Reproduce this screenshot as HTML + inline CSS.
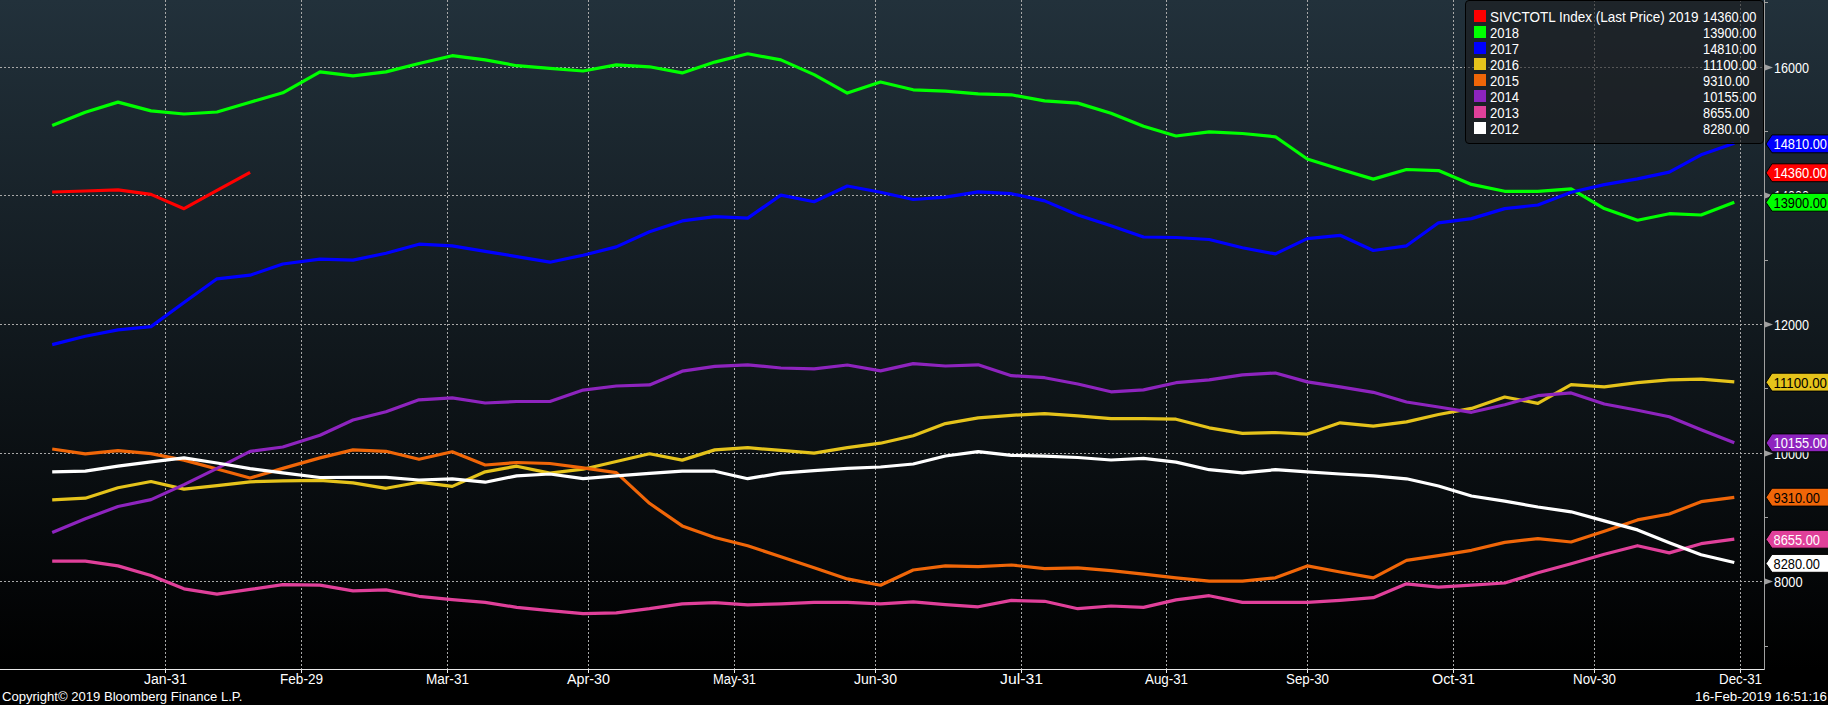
<!DOCTYPE html><html><head><meta charset="utf-8"><style>html,body{margin:0;padding:0;background:#000;overflow:hidden;}svg{display:block;}text{font-family:"Liberation Sans",sans-serif;}</style></head><body>
<svg width="1828" height="705" viewBox="0 0 1828 705">
<defs><linearGradient id="bg" x1="0" y1="0" x2="0" y2="1"><stop offset="0" stop-color="#22313b"/><stop offset="1" stop-color="#000000"/></linearGradient></defs>
<rect x="0" y="0" width="1828" height="705" fill="#000"/>
<rect x="0" y="0" width="1828" height="669" fill="url(#bg)"/>
<line x1="0" y1="67.5" x2="1764" y2="67.5" stroke="#a8a8a8" stroke-width="1" stroke-dasharray="2 2"/>
<line x1="0" y1="195.5" x2="1764" y2="195.5" stroke="#a8a8a8" stroke-width="1" stroke-dasharray="2 2"/>
<line x1="0" y1="324.5" x2="1764" y2="324.5" stroke="#a8a8a8" stroke-width="1" stroke-dasharray="2 2"/>
<line x1="0" y1="453.5" x2="1764" y2="453.5" stroke="#a8a8a8" stroke-width="1" stroke-dasharray="2 2"/>
<line x1="0" y1="581.5" x2="1764" y2="581.5" stroke="#a8a8a8" stroke-width="1" stroke-dasharray="2 2"/>
<line x1="165.5" y1="0" x2="165.5" y2="669" stroke="#a8a8a8" stroke-width="1" stroke-dasharray="2 2"/>
<line x1="301.5" y1="0" x2="301.5" y2="669" stroke="#a8a8a8" stroke-width="1" stroke-dasharray="2 2"/>
<line x1="447.5" y1="0" x2="447.5" y2="669" stroke="#a8a8a8" stroke-width="1" stroke-dasharray="2 2"/>
<line x1="588.5" y1="0" x2="588.5" y2="669" stroke="#a8a8a8" stroke-width="1" stroke-dasharray="2 2"/>
<line x1="734.5" y1="0" x2="734.5" y2="669" stroke="#a8a8a8" stroke-width="1" stroke-dasharray="2 2"/>
<line x1="875.5" y1="0" x2="875.5" y2="669" stroke="#a8a8a8" stroke-width="1" stroke-dasharray="2 2"/>
<line x1="1021.5" y1="0" x2="1021.5" y2="669" stroke="#a8a8a8" stroke-width="1" stroke-dasharray="2 2"/>
<line x1="1166.5" y1="0" x2="1166.5" y2="669" stroke="#a8a8a8" stroke-width="1" stroke-dasharray="2 2"/>
<line x1="1307.5" y1="0" x2="1307.5" y2="669" stroke="#a8a8a8" stroke-width="1" stroke-dasharray="2 2"/>
<line x1="1453.5" y1="0" x2="1453.5" y2="669" stroke="#a8a8a8" stroke-width="1" stroke-dasharray="2 2"/>
<line x1="1594.5" y1="0" x2="1594.5" y2="669" stroke="#a8a8a8" stroke-width="1" stroke-dasharray="2 2"/>
<line x1="1740.5" y1="0" x2="1740.5" y2="669" stroke="#a8a8a8" stroke-width="1" stroke-dasharray="2 2"/>
<polyline points="52.2,192.0 85.3,191.0 118.0,189.8 151.0,194.4 184.0,208.7 217.0,190.4 250.1,172.3" fill="none" stroke="#ff0000" stroke-width="3.2" stroke-linejoin="round"/>
<polyline points="52.2,125.6 85.3,112.3 118.0,102.1 151.0,110.9 184.0,114.0 217.0,112.0 250.1,102.2 282.8,92.8 320.0,71.9 353.0,75.9 386.0,71.9 419.0,63.5 452.2,55.7 485.2,59.9 516.7,65.7 549.9,68.4 583.1,71.0 616.3,64.9 649.5,66.8 682.2,72.9 714.8,62.1 747.7,53.8 780.9,59.9 814.1,74.6 847.3,93.1 880.5,82.0 913.2,89.8 945.4,91.2 978.2,93.9 1011.4,94.8 1044.6,100.9 1077.8,103.1 1111.0,113.3 1143.5,126.3 1176.0,136.0 1209.2,131.8 1242.4,133.5 1275.4,136.8 1307.3,159.0 1340.1,169.2 1373.3,179.1 1406.5,169.5 1438.5,170.6 1471.5,184.4 1504.7,191.3 1537.9,191.3 1571.1,188.8 1604.3,208.6 1637.5,220.2 1669.3,213.7 1701.1,215.0 1734.3,202.3" fill="none" stroke="#00ff00" stroke-width="3.2" stroke-linejoin="round"/>
<polyline points="52.2,344.6 85.3,336.3 118.0,329.9 151.0,326.6 184.0,302.5 217.0,278.8 250.1,275.2 282.8,264.0 320.0,259.2 353.0,260.1 386.0,253.3 419.0,244.2 452.2,245.8 485.2,251.3 516.7,256.6 549.9,262.2 583.1,255.2 616.3,246.9 649.5,231.7 682.2,220.9 714.8,216.7 747.7,218.1 780.9,195.1 814.1,201.7 847.3,186.0 880.5,192.3 913.2,199.5 945.4,197.2 978.2,191.8 1011.4,193.7 1044.6,200.9 1077.8,215.0 1111.0,225.8 1143.5,237.0 1176.0,237.5 1209.2,239.5 1242.4,247.8 1275.4,253.9 1307.3,238.6 1340.1,235.3 1373.3,250.5 1406.5,245.8 1438.5,222.8 1471.5,218.6 1504.7,208.6 1537.9,205.0 1571.1,192.3 1604.3,184.6 1637.5,178.9 1669.3,172.1 1701.1,154.8 1734.3,143.2" fill="none" stroke="#0000ff" stroke-width="3.2" stroke-linejoin="round"/>
<polyline points="52.2,499.8 85.3,498.2 118.0,487.8 151.0,481.5 184.0,489.1 217.0,485.6 250.1,481.8 282.8,480.9 320.0,480.3 353.0,482.8 386.0,488.3 419.0,482.2 452.2,486.4 485.2,471.8 516.7,466.2 549.9,473.1 583.1,469.2 616.3,461.5 649.5,453.8 682.2,460.1 714.8,449.9 747.7,447.7 780.9,450.4 814.1,453.2 847.3,447.7 880.5,443.2 913.2,435.8 945.4,423.6 978.2,417.8 1011.4,415.3 1044.6,413.6 1077.8,415.9 1111.0,418.6 1143.5,418.6 1176.0,419.2 1209.2,427.8 1242.4,433.3 1275.4,432.5 1307.3,434.1 1340.1,422.8 1373.3,426.1 1406.5,421.9 1438.5,414.5 1471.5,408.4 1504.7,397.0 1537.9,403.4 1571.1,384.6 1604.3,386.8 1637.5,382.7 1669.3,379.9 1701.1,379.1 1734.3,381.8" fill="none" stroke="#e5c31b" stroke-width="3.2" stroke-linejoin="round"/>
<polyline points="52.2,449.0 85.3,453.9 118.0,450.6 151.0,453.6 184.0,460.1 217.0,469.0 250.1,478.0 282.8,468.4 320.0,457.9 353.0,449.9 386.0,451.3 419.0,459.3 452.2,451.8 485.2,465.0 516.7,462.5 549.9,463.5 583.1,467.8 616.3,472.6 649.5,503.3 682.2,525.9 714.8,537.5 747.7,545.8 780.9,556.7 814.1,567.8 847.3,578.9 880.5,585.2 913.2,570.0 945.4,565.9 978.2,566.7 1011.4,565.0 1044.6,568.6 1077.8,567.8 1111.0,570.6 1143.5,574.2 1176.0,577.8 1209.2,581.1 1242.4,581.1 1275.4,577.8 1307.3,565.9 1340.1,572.0 1373.3,577.8 1406.5,560.3 1438.5,555.6 1471.5,550.3 1504.7,542.4 1537.9,538.6 1571.1,542.0 1604.3,531.3 1637.5,519.9 1669.3,514.0 1701.1,501.7 1734.3,497.4" fill="none" stroke="#f06608" stroke-width="3.2" stroke-linejoin="round"/>
<polyline points="52.2,532.6 85.3,518.8 118.0,506.5 151.0,499.6 184.0,484.6 217.0,468.4 250.1,451.3 282.8,447.0 320.0,435.2 353.0,420.0 386.0,411.7 419.0,399.8 452.2,397.9 485.2,403.0 516.7,401.5 549.9,401.5 583.1,390.1 616.3,386.0 649.5,384.9 682.2,371.2 714.8,366.4 747.7,364.8 780.9,368.0 814.1,368.8 847.3,365.0 880.5,370.9 913.2,363.6 945.4,366.0 978.2,364.8 1011.4,375.7 1044.6,377.7 1077.8,384.0 1111.0,391.8 1143.5,389.9 1176.0,382.7 1209.2,379.9 1242.4,374.9 1275.4,373.0 1307.3,381.9 1340.1,386.8 1373.3,392.3 1406.5,402.0 1438.5,407.0 1471.5,412.3 1504.7,404.8 1537.9,395.7 1571.1,392.9 1604.3,404.0 1637.5,410.3 1669.3,416.7 1701.1,429.7 1734.3,442.7" fill="none" stroke="#8e24be" stroke-width="3.2" stroke-linejoin="round"/>
<polyline points="52.2,561.2 85.3,561.2 118.0,565.9 151.0,575.5 184.0,588.8 217.0,594.1 250.1,589.4 282.8,584.7 320.0,585.2 353.0,590.8 386.0,589.9 419.0,596.3 452.2,599.6 485.2,602.3 516.7,607.4 549.9,610.7 583.1,613.7 616.3,612.9 649.5,608.7 682.2,603.8 714.8,602.7 747.7,604.9 780.9,603.8 814.1,602.4 847.3,602.4 880.5,603.8 913.2,601.8 945.4,604.6 978.2,606.8 1011.4,600.4 1044.6,601.3 1077.8,608.7 1111.0,606.0 1143.5,607.4 1176.0,599.9 1209.2,595.7 1242.4,602.4 1275.4,602.4 1307.3,602.4 1340.1,600.4 1373.3,597.7 1406.5,583.8 1438.5,587.2 1471.5,585.2 1504.7,583.0 1537.9,572.8 1571.1,563.7 1604.3,554.2 1637.5,545.7 1669.3,552.9 1701.1,543.7 1734.3,539.2" fill="none" stroke="#e0409a" stroke-width="3.2" stroke-linejoin="round"/>
<polyline points="52.2,471.8 85.3,471.2 118.0,466.2 151.0,461.8 184.0,457.8 217.0,463.0 250.1,468.7 282.8,472.9 320.0,477.5 353.0,477.3 386.0,477.3 419.0,480.0 452.2,478.9 485.2,482.2 516.7,475.9 549.9,474.0 583.1,478.6 616.3,475.9 649.5,473.4 682.2,471.2 714.8,471.2 747.7,478.7 780.9,473.1 814.1,470.6 847.3,468.4 880.5,467.0 913.2,464.0 945.4,456.0 978.2,451.7 1011.4,455.3 1044.6,456.2 1077.8,457.5 1111.0,460.0 1143.5,458.3 1176.0,462.1 1209.2,469.7 1242.4,472.8 1275.4,469.7 1307.3,471.9 1340.1,474.0 1373.3,475.9 1406.5,478.8 1438.5,486.0 1471.5,496.0 1504.7,501.2 1537.9,507.0 1571.1,511.8 1604.3,520.9 1637.5,529.9 1669.3,542.7 1701.1,554.8 1734.3,562.5" fill="none" stroke="#ffffff" stroke-width="3.2" stroke-linejoin="round"/>
<line x1="0" y1="669.5" x2="1765" y2="669.5" stroke="#e8e8e8" stroke-width="1"/>
<line x1="1764.5" y1="0" x2="1764.5" y2="670" stroke="#a0a0a0" stroke-width="1"/>
<line x1="165.5" y1="669" x2="165.5" y2="673" stroke="#e8e8e8" stroke-width="1"/>
<line x1="301.5" y1="669" x2="301.5" y2="673" stroke="#e8e8e8" stroke-width="1"/>
<line x1="447.5" y1="669" x2="447.5" y2="673" stroke="#e8e8e8" stroke-width="1"/>
<line x1="588.5" y1="669" x2="588.5" y2="673" stroke="#e8e8e8" stroke-width="1"/>
<line x1="734.5" y1="669" x2="734.5" y2="673" stroke="#e8e8e8" stroke-width="1"/>
<line x1="875.5" y1="669" x2="875.5" y2="673" stroke="#e8e8e8" stroke-width="1"/>
<line x1="1021.5" y1="669" x2="1021.5" y2="673" stroke="#e8e8e8" stroke-width="1"/>
<line x1="1166.5" y1="669" x2="1166.5" y2="673" stroke="#e8e8e8" stroke-width="1"/>
<line x1="1307.5" y1="669" x2="1307.5" y2="673" stroke="#e8e8e8" stroke-width="1"/>
<line x1="1453.5" y1="669" x2="1453.5" y2="673" stroke="#e8e8e8" stroke-width="1"/>
<line x1="1594.5" y1="669" x2="1594.5" y2="673" stroke="#e8e8e8" stroke-width="1"/>
<line x1="1740.5" y1="669" x2="1740.5" y2="673" stroke="#e8e8e8" stroke-width="1"/>
<line x1="1764" y1="2.5" x2="1768" y2="2.5" stroke="#a0a0a0" stroke-width="1"/>
<line x1="1764" y1="131.5" x2="1768" y2="131.5" stroke="#a0a0a0" stroke-width="1"/>
<line x1="1764" y1="260.5" x2="1768" y2="260.5" stroke="#a0a0a0" stroke-width="1"/>
<line x1="1764" y1="388.5" x2="1768" y2="388.5" stroke="#a0a0a0" stroke-width="1"/>
<line x1="1764" y1="517.5" x2="1768" y2="517.5" stroke="#a0a0a0" stroke-width="1"/>
<line x1="1764" y1="646.5" x2="1768" y2="646.5" stroke="#a0a0a0" stroke-width="1"/>
<polygon points="1765,64.5 1773,67.5 1765,70.5" fill="#a0a0a0"/>
<text x="1774" y="72.5" font-size="14.5" fill="#ffffff" textLength="35" lengthAdjust="spacingAndGlyphs">16000</text>
<polygon points="1765,192.5 1773,195.5 1765,198.5" fill="#a0a0a0"/>
<text x="1774" y="200.5" font-size="14.5" fill="#ffffff" textLength="35" lengthAdjust="spacingAndGlyphs">14000</text>
<polygon points="1765,321.5 1773,324.5 1765,327.5" fill="#a0a0a0"/>
<text x="1774" y="329.5" font-size="14.5" fill="#ffffff" textLength="35" lengthAdjust="spacingAndGlyphs">12000</text>
<polygon points="1765,450.5 1773,453.5 1765,456.5" fill="#a0a0a0"/>
<text x="1774" y="458.5" font-size="14.5" fill="#ffffff" textLength="35" lengthAdjust="spacingAndGlyphs">10000</text>
<polygon points="1765,578.5 1773,581.5 1765,584.5" fill="#a0a0a0"/>
<text x="1774" y="586.5" font-size="14.5" fill="#ffffff" textLength="28.6" lengthAdjust="spacingAndGlyphs">8000</text>
<text x="165.5" y="684" font-size="14" fill="#ffffff" text-anchor="middle" textLength="43" lengthAdjust="spacingAndGlyphs">Jan-31</text>
<text x="301.5" y="684" font-size="14" fill="#ffffff" text-anchor="middle" textLength="43" lengthAdjust="spacingAndGlyphs">Feb-29</text>
<text x="447.5" y="684" font-size="14" fill="#ffffff" text-anchor="middle" textLength="43" lengthAdjust="spacingAndGlyphs">Mar-31</text>
<text x="588.5" y="684" font-size="14" fill="#ffffff" text-anchor="middle" textLength="43" lengthAdjust="spacingAndGlyphs">Apr-30</text>
<text x="734.5" y="684" font-size="14" fill="#ffffff" text-anchor="middle" textLength="43" lengthAdjust="spacingAndGlyphs">May-31</text>
<text x="875.5" y="684" font-size="14" fill="#ffffff" text-anchor="middle" textLength="43" lengthAdjust="spacingAndGlyphs">Jun-30</text>
<text x="1021.5" y="684" font-size="14" fill="#ffffff" text-anchor="middle" textLength="43" lengthAdjust="spacingAndGlyphs">Jul-31</text>
<text x="1166.5" y="684" font-size="14" fill="#ffffff" text-anchor="middle" textLength="43" lengthAdjust="spacingAndGlyphs">Aug-31</text>
<text x="1307.5" y="684" font-size="14" fill="#ffffff" text-anchor="middle" textLength="43" lengthAdjust="spacingAndGlyphs">Sep-30</text>
<text x="1453.5" y="684" font-size="14" fill="#ffffff" text-anchor="middle" textLength="43" lengthAdjust="spacingAndGlyphs">Oct-31</text>
<text x="1594.5" y="684" font-size="14" fill="#ffffff" text-anchor="middle" textLength="43" lengthAdjust="spacingAndGlyphs">Nov-30</text>
<text x="1740.5" y="684" font-size="14" fill="#ffffff" text-anchor="middle" textLength="43" lengthAdjust="spacingAndGlyphs">Dec-31</text>
<text x="2" y="701" font-size="12" fill="#ffffff" textLength="240.5" lengthAdjust="spacingAndGlyphs">Copyright© 2019 Bloomberg Finance L.P.</text>
<text x="1695" y="701" font-size="12" fill="#ffffff" textLength="132" lengthAdjust="spacingAndGlyphs">16-Feb-2019 16:51:16</text>
<polygon points="1766,443.0 1772,433.9 1832,433.9 1832,451.8 1772,451.8" fill="#8e24be" stroke="#000" stroke-width="1"/>
<text x="1773.5" y="448.3" font-size="14.5" fill="#fff" textLength="53.5" lengthAdjust="spacingAndGlyphs">10155.00</text>
<polygon points="1766,382.3 1772,373.2 1832,373.2 1832,391.1 1772,391.1" fill="#e5c31b" stroke="#000" stroke-width="1"/>
<text x="1773.5" y="387.6" font-size="14.5" fill="#000" textLength="53.5" lengthAdjust="spacingAndGlyphs">11100.00</text>
<polygon points="1766,497.3 1772,488.2 1832,488.2 1832,506.1 1772,506.1" fill="#f06608" stroke="#000" stroke-width="1"/>
<text x="1773.5" y="502.6" font-size="14.5" fill="#000" textLength="46.5" lengthAdjust="spacingAndGlyphs">9310.00</text>
<polygon points="1766,539.4 1772,530.3 1832,530.3 1832,548.2 1772,548.2" fill="#e0409a" stroke="#000" stroke-width="1"/>
<text x="1773.5" y="544.7" font-size="14.5" fill="#fff" textLength="46.5" lengthAdjust="spacingAndGlyphs">8655.00</text>
<polygon points="1766,563.5 1772,554.4 1832,554.4 1832,572.3 1772,572.3" fill="#ffffff" stroke="#000" stroke-width="1"/>
<text x="1773.5" y="568.8" font-size="14.5" fill="#000" textLength="46.5" lengthAdjust="spacingAndGlyphs">8280.00</text>
<polygon points="1766,202.4 1772,193.3 1832,193.3 1832,211.2 1772,211.2" fill="#00ff00" stroke="#000" stroke-width="1"/>
<text x="1773.5" y="207.7" font-size="14.5" fill="#000" textLength="53.5" lengthAdjust="spacingAndGlyphs">13900.00</text>
<polygon points="1766,172.9 1772,163.8 1832,163.8 1832,181.7 1772,181.7" fill="#ff0000" stroke="#000" stroke-width="1"/>
<text x="1773.5" y="178.2" font-size="14.5" fill="#fff" textLength="53.5" lengthAdjust="spacingAndGlyphs">14360.00</text>
<polygon points="1766,144.0 1772,134.9 1832,134.9 1832,152.8 1772,152.8" fill="#0000ff" stroke="#000" stroke-width="1"/>
<text x="1773.5" y="149.3" font-size="14.5" fill="#fff" textLength="53.5" lengthAdjust="spacingAndGlyphs">14810.00</text>
<rect x="1465.5" y="0.5" width="298" height="143" rx="3.5" ry="3.5" fill="#1b1c1e" fill-opacity="0.58" stroke="#000" stroke-width="1"/>
<rect x="1474" y="10" width="12" height="12" fill="#ff0000"/>
<text x="1490" y="22" font-size="14.5" fill="#fff" textLength="208.5" lengthAdjust="spacingAndGlyphs">SIVCTOTL Index (Last Price) 2019</text>
<text x="1703" y="22" font-size="14.5" fill="#fff" textLength="53.5" lengthAdjust="spacingAndGlyphs">14360.00</text>
<rect x="1474" y="26" width="12" height="12" fill="#00ff00"/>
<text x="1490" y="38" font-size="14.5" fill="#fff" textLength="29" lengthAdjust="spacingAndGlyphs">2018</text>
<text x="1703" y="38" font-size="14.5" fill="#fff" textLength="53.5" lengthAdjust="spacingAndGlyphs">13900.00</text>
<rect x="1474" y="42" width="12" height="12" fill="#0000ff"/>
<text x="1490" y="54" font-size="14.5" fill="#fff" textLength="29" lengthAdjust="spacingAndGlyphs">2017</text>
<text x="1703" y="54" font-size="14.5" fill="#fff" textLength="53.5" lengthAdjust="spacingAndGlyphs">14810.00</text>
<rect x="1474" y="58" width="12" height="12" fill="#e5c31b"/>
<text x="1490" y="70" font-size="14.5" fill="#fff" textLength="29" lengthAdjust="spacingAndGlyphs">2016</text>
<text x="1703" y="70" font-size="14.5" fill="#fff" textLength="53.5" lengthAdjust="spacingAndGlyphs">11100.00</text>
<rect x="1474" y="74" width="12" height="12" fill="#f06608"/>
<text x="1490" y="86" font-size="14.5" fill="#fff" textLength="29" lengthAdjust="spacingAndGlyphs">2015</text>
<text x="1703" y="86" font-size="14.5" fill="#fff" textLength="46.5" lengthAdjust="spacingAndGlyphs">9310.00</text>
<rect x="1474" y="90" width="12" height="12" fill="#8e24be"/>
<text x="1490" y="102" font-size="14.5" fill="#fff" textLength="29" lengthAdjust="spacingAndGlyphs">2014</text>
<text x="1703" y="102" font-size="14.5" fill="#fff" textLength="53.5" lengthAdjust="spacingAndGlyphs">10155.00</text>
<rect x="1474" y="106" width="12" height="12" fill="#e0409a"/>
<text x="1490" y="118" font-size="14.5" fill="#fff" textLength="29" lengthAdjust="spacingAndGlyphs">2013</text>
<text x="1703" y="118" font-size="14.5" fill="#fff" textLength="46.5" lengthAdjust="spacingAndGlyphs">8655.00</text>
<rect x="1474" y="122" width="12" height="12" fill="#ffffff"/>
<text x="1490" y="134" font-size="14.5" fill="#fff" textLength="29" lengthAdjust="spacingAndGlyphs">2012</text>
<text x="1703" y="134" font-size="14.5" fill="#fff" textLength="46.5" lengthAdjust="spacingAndGlyphs">8280.00</text>
</svg></body></html>
